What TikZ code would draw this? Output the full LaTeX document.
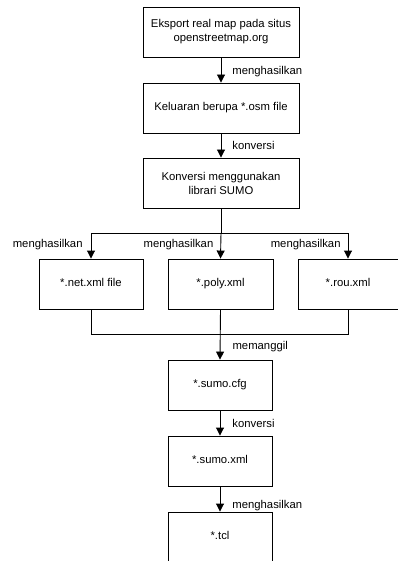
\documentclass[tikz,border=0pt]{standalone}
\usepackage{fontspec}
\setmainfont{Liberation Sans}
\usetikzlibrary{arrows.meta}
\begin{document}
\begin{tikzpicture}[x=1pt,y=-1pt,
  box/.style={draw,line width=0.9pt,minimum height=50pt,inner sep=0pt,align=center,font=\fontsize{11.3}{14}\selectfont},
  one/.style={text height=8.3pt,text depth=2.4pt},
  lbl/.style={font=\fontsize{11.3}{14}\selectfont,inner sep=0pt},
  arr/.style={line width=0.9pt,-{Triangle[length=8pt,width=8pt]}},
  ln/.style={line width=0.9pt}]
\useasboundingbox (0,0) rectangle (398,561);
\clip (0,0) rectangle (398,561);
\node[box,minimum width=156pt] (b1) at (221,32) {Eksport real map pada situs\\openstreetmap.org};
\node[box,one,minimum width=156pt] (b2) at (221,108) {Keluaran berupa *.osm file};
\node[box,minimum width=156pt] (b3) at (221,183) {Konversi menggunakan\\librari SUMO};
\node[box,one,minimum width=104pt] (n1) at (91,284) {*.net.xml file};
\node[box,one,minimum width=105pt] (n2) at (220.5,284) {*.poly.xml};
\node[box,one,minimum width=100pt] (n3) at (348,284) {*.rou.xml};
\node[box,one,minimum width=104pt] (c1) at (220,385) {*.sumo.cfg};
\node[box,one,minimum width=104pt] (c2) at (220,461) {*.sumo.xml};
\node[box,one,minimum width=104pt] (c3) at (220,537) {*.tcl};
% vertical flow
\draw[arr] (b1) -- (b2) node[lbl,pos=0.55,anchor=west,xshift=11pt] {menghasilkan};
\draw[arr] (b2) -- (b3) node[lbl,pos=0.5,anchor=west,xshift=11pt] {konversi};
% split
\coordinate (s) at (221,233);
\draw[ln] (b3.south) -- (s);
\draw[ln] (n1.north |- s) -- (n3.north |- s);
\draw[arr] (n1.north |- s) -- (n1.north) node[lbl,pos=0.45,anchor=east,xshift=-8pt] {menghasilkan};
\draw[arr] (s) -- (n2.north) node[lbl,pos=0.45,anchor=east,xshift=-7pt] {menghasilkan};
\draw[arr] (n3.north |- s) -- (n3.north) node[lbl,pos=0.45,anchor=east,xshift=-7pt] {menghasilkan};
% join
\coordinate (j) at (220.5,334);
\draw[ln] (n1.south) -- (n1.south |- j) -- (n3.south |- j) -- (n3.south);
\draw[arr] (n2.south) -- (c1.north) node[lbl,pos=0.75,anchor=west,xshift=12pt] {memanggil};
\draw[arr] (c1) -- (c2) node[lbl,pos=0.5,anchor=west,xshift=12pt] {konversi};
\draw[arr] (c2) -- (c3) node[lbl,pos=0.75,anchor=west,xshift=12pt] {menghasilkan};
\end{tikzpicture}
\end{document}
